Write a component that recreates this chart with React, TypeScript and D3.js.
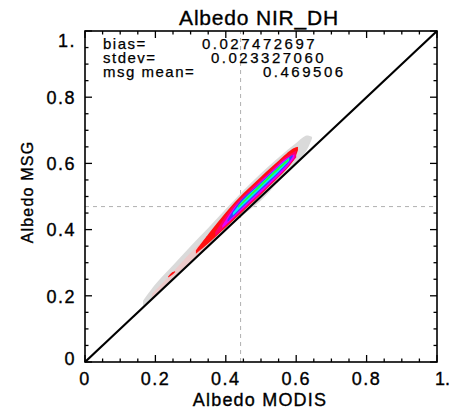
import React from "react";
import * as d3 from "d3";

// ---- data ----
const tickValues = [0, 0.2, 0.4, 0.6, 0.8, 1.0];
const tickLabels = ["0", "0.2", "0.4", "0.6", "0.8", "1."];
const minorStep = 0.05;

const modisMean = 0.442;
const msgMean = 0.469506;
const statLabels = ["bias=", "stdev=", "msg mean="];
const statValues = ["0.027472697", "0.023327060", "0.469506"];

// density cloud layers (x, lower y, upper y), outermost first
const grayX = [0.165, 0.2, 0.25, 0.3, 0.35, 0.4, 0.45, 0.5, 0.55, 0.6, 0.63, 0.645];
const grayLo = [0.17, 0.2, 0.25, 0.3, 0.35, 0.4, 0.445, 0.488, 0.545, 0.6, 0.64, 0.675];
const grayHi = [0.185, 0.235, 0.292, 0.35, 0.405, 0.462, 0.518, 0.57, 0.618, 0.662, 0.684, 0.68];

const pinkX = [0.19, 0.25, 0.3, 0.36];
const pinkLo = [0.193, 0.252, 0.302, 0.362];
const pinkHi = [0.205, 0.272, 0.33, 0.392];

const redX = [0.315, 0.35, 0.4, 0.45, 0.5, 0.55, 0.59, 0.605];
const redLo = [0.327, 0.358, 0.406, 0.456, 0.506, 0.558, 0.605, 0.64];
const redHi = [0.337, 0.386, 0.452, 0.51, 0.56, 0.608, 0.644, 0.65];

const blobX = [0.236, 0.246, 0.256];
const blobLo = [0.255, 0.262, 0.271];
const blobHi = [0.258, 0.27, 0.274];

const crimsonX = [0.37, 0.42, 0.47, 0.52, 0.56, 0.6];
const crimsonLo = [0.38, 0.43, 0.478, 0.528, 0.57, 0.618];
const crimsonHi = [0.392, 0.47, 0.522, 0.57, 0.612, 0.638];

const magentaX = [0.39, 0.43, 0.48, 0.53, 0.57, 0.595];
const magentaLo = [0.404, 0.444, 0.493, 0.543, 0.584, 0.618];
const magentaHi = [0.412, 0.475, 0.526, 0.576, 0.614, 0.628];

const blueX = [0.405, 0.44, 0.49, 0.54, 0.575, 0.59];
const blueLo = [0.423, 0.459, 0.51, 0.56, 0.598, 0.62];
const blueHi = [0.43, 0.485, 0.533, 0.582, 0.614, 0.626];

const cyanX = [0.42, 0.45, 0.5, 0.55, 0.58];
const cyanLo = [0.442, 0.474, 0.525, 0.575, 0.608];
const cyanHi = [0.45, 0.49, 0.54, 0.59, 0.618];

const greenX = [0.435, 0.47, 0.51, 0.55, 0.578];
const greenLo = [0.465, 0.501, 0.541, 0.581, 0.608];
const greenHi = [0.471, 0.508, 0.548, 0.588, 0.614];

const layers = [
  { xs: grayX, lo: grayLo, hi: grayHi, color: "#dadada" },
  { xs: pinkX, lo: pinkLo, hi: pinkHi, color: "#eccaca" },
  { xs: redX, lo: redLo, hi: redHi, color: "#ff1010" },
  { xs: blobX, lo: blobLo, hi: blobHi, color: "#ff1010" },
  { xs: crimsonX, lo: crimsonLo, hi: crimsonHi, color: "#ff0066" },
  { xs: magentaX, lo: magentaLo, hi: magentaHi, color: "#e600ff" },
  { xs: blueX, lo: blueLo, hi: blueHi, color: "#3c3cff" },
  { xs: cyanX, lo: cyanLo, hi: cyanHi, color: "#00eaff" },
  { xs: greenX, lo: greenLo, hi: greenHi, color: "#20ff30" },
];

const W = 450;
const H = 412;
const FONT = "'Liberation Sans', Arial, Helvetica, sans-serif";
const TXT = { fill: "#000", stroke: "#000", strokeWidth: 0.35 };

export default function App() {
  const x = d3.scaleLinear().domain([0, 1]).range([85, 437]);
  const y = d3.scaleLinear().domain([0, 1]).range([362, 31]);

  const area = d3
    .area<{ x: number; lo: number; hi: number }>()
    .x((d) => x(d.x))
    .y0((d) => y(d.lo))
    .y1((d) => y(d.hi))
    .curve(d3.curveCatmullRom);

  const minorTicks = d3.range(0, 1 + 1e-9, minorStep).filter(
    (v) => !tickValues.some((t) => Math.abs(t - v) < 1e-6)
  );
  const majLen = 7;
  const minLen = 3.5;
  const last = tickValues.length - 1;

  return (
    <svg
      width={W}
      height={H}
      style={{ position: "absolute", left: 0, top: 0, background: "#fff" }}
      fontFamily={FONT}
    >
      <rect x={0} y={0} width={W} height={H} fill="#fff" />
      {/* title */}
      <text x={259} y={25} textAnchor="middle" fontSize={21} letterSpacing={0.8} {...TXT}>
        Albedo  NIR_DH
      </text>

      {/* dashed mean lines */}
      <line x1={x(modisMean)} x2={x(modisMean)} y1={y(0)} y2={y(1)} stroke="#b0b0b0" strokeWidth={1} strokeDasharray="4,4" />
      <line x1={x(0)} x2={x(1)} y1={y(msgMean)} y2={y(msgMean)} stroke="#b0b0b0" strokeWidth={1} strokeDasharray="4,4" />

      {/* density cloud */}
      {layers.map((L, i) => (
        <path
          key={i}
          d={area(L.xs.map((v, j) => ({ x: v, lo: L.lo[j], hi: L.hi[j] }))) || ""}
          fill={L.color}
        />
      ))}

      {/* 1:1 line */}
      <line x1={x(0)} y1={y(0)} x2={x(1)} y2={y(1)} stroke="#000" strokeWidth={2.2} />

      {/* frame */}
      <rect x={x(0)} y={y(1)} width={x(1) - x(0)} height={y(0) - y(1)} fill="none" stroke="#000" strokeWidth={1.6} />

      {/* ticks on all four sides */}
      {tickValues.map((t) => (
        <g key={"M" + t} stroke="#000" strokeWidth={1.3}>
          <line x1={x(t)} x2={x(t)} y1={y(0)} y2={y(0) - majLen} />
          <line x1={x(t)} x2={x(t)} y1={y(1)} y2={y(1) + majLen} />
          <line x1={x(0)} x2={x(0) + majLen} y1={y(t)} y2={y(t)} />
          <line x1={x(1)} x2={x(1) - majLen} y1={y(t)} y2={y(t)} />
        </g>
      ))}
      {minorTicks.map((t) => (
        <g key={"m" + t} stroke="#000" strokeWidth={1.3}>
          <line x1={x(t)} x2={x(t)} y1={y(0)} y2={y(0) - minLen} />
          <line x1={x(t)} x2={x(t)} y1={y(1)} y2={y(1) + minLen} />
          <line x1={x(0)} x2={x(0) + minLen} y1={y(t)} y2={y(t)} />
          <line x1={x(1)} x2={x(1) - minLen} y1={y(t)} y2={y(t)} />
        </g>
      ))}

      {/* tick labels */}
      {tickValues.map((t, i) => (
        <text
          key={"xl" + t}
          x={i === last ? x(t) - 2 : x(t)}
          y={385}
          textAnchor={i === last ? "start" : "middle"}
          fontSize={18}
          letterSpacing={i === last ? 0 : 1.5}
          {...TXT}
        >
          {tickLabels[i]}
        </text>
      ))}
      {tickValues.map((t, i) => (
        <text
          key={"yl" + t}
          x={76}
          y={y(t) + (i === 0 ? 3 : i === last ? 16 : 6.8)}
          textAnchor="end"
          fontSize={18}
          letterSpacing={1.5}
          {...TXT}
        >
          {tickLabels[i]}
        </text>
      ))}

      {/* axis titles */}
      <text x={260} y={406} textAnchor="middle" fontSize={18} letterSpacing={1.2} {...TXT}>
        Albedo  MODIS
      </text>
      <text
        transform={`translate(33,192) rotate(-90)`}
        textAnchor="middle"
        fontSize={16}
        letterSpacing={1.2}
        {...TXT}
      >
        Albedo  MSG
      </text>

      {/* statistics */}
      {statLabels.map((s, i) => (
        <text key={"sl" + i} x={103} y={49 + i * 14} fontSize={15} letterSpacing={1.5} {...TXT} strokeWidth={0.25}>
          {s}
        </text>
      ))}
      {statValues.map((s, i) => (
        <text key={"sv" + i} x={[202, 211, 263][i]} y={49 + i * 14} fontSize={15} letterSpacing={2.5} {...TXT} strokeWidth={0.25}>
          {s}
        </text>
      ))}
    </svg>
  );
}
